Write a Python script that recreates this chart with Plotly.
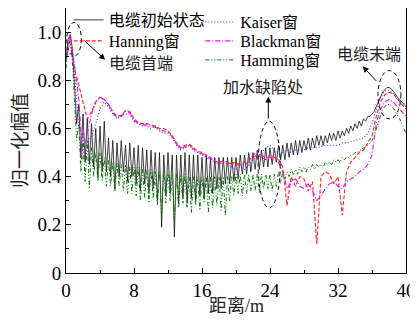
import plotly.graph_objects as go

# ---------------- data ----------------
distance_fine = [i * 0.25 for i in range(161)]   # 0 .. 40 m, step 0.25
distance_coarse = [i * 0.5 for i in range(81)]   # 0 .. 40 m, step 0.5

initial_state = [
    0.88, 0.97, 0.99, 0.93,
    0.78, 0.62, 0.70, 0.48,
    0.66, 0.46, 0.64, 0.45,
    0.62, 0.44, 0.60, 0.40,
    0.61, 0.42, 0.63, 0.42,
    0.56, 0.40, 0.55, 0.35,
    0.54, 0.40, 0.55, 0.42,
    0.53, 0.38, 0.54, 0.40,
    0.52, 0.37, 0.53, 0.34,
    0.52, 0.37, 0.51, 0.33,
    0.51, 0.35, 0.50, 0.30,
    0.50, 0.19, 0.49, 0.32,
    0.50, 0.33, 0.49, 0.15,
    0.49, 0.29, 0.49, 0.31,
    0.50, 0.29, 0.49, 0.31,
    0.49, 0.30, 0.49, 0.32,
    0.48, 0.31, 0.49, 0.33,
    0.48, 0.33, 0.48, 0.35,
    0.48, 0.35, 0.48, 0.37,
    0.48, 0.37, 0.48, 0.38,
    0.48, 0.39, 0.49, 0.41,
    0.49, 0.41, 0.50, 0.42,
    0.50, 0.43, 0.51, 0.43,
    0.51, 0.44, 0.52, 0.44,
    0.52, 0.45, 0.52, 0.46,
    0.53, 0.47, 0.53, 0.47,
    0.54, 0.48, 0.54, 0.49,
    0.55, 0.49, 0.55, 0.50,
    0.55, 0.51, 0.56, 0.51,
    0.56, 0.52, 0.57, 0.53,
    0.57, 0.53, 0.57, 0.54,
    0.58, 0.55, 0.58, 0.55,
    0.59, 0.56, 0.59, 0.57,
    0.60, 0.58, 0.61, 0.59,
    0.62, 0.60, 0.63, 0.61,
    0.64, 0.63, 0.65, 0.65,
    0.66, 0.67, 0.69, 0.71,
    0.73, 0.75, 0.76, 0.77,
    0.77, 0.765, 0.755, 0.74,
    0.73, 0.72, 0.71, 0.70,
    0.69,
]

hamming = [
    0.85, 0.95, 0.96, 0.88,
    0.72, 0.55, 0.62, 0.42,
    0.58, 0.38, 0.55, 0.35,
    0.52, 0.40, 0.50, 0.38,
    0.50, 0.38, 0.48, 0.36,
    0.47, 0.36, 0.46, 0.34,
    0.46, 0.36, 0.45, 0.34,
    0.45, 0.33, 0.44, 0.33,
    0.44, 0.32, 0.44, 0.30,
    0.43, 0.31, 0.43, 0.29,
    0.43, 0.31, 0.42, 0.28,
    0.42, 0.25, 0.42, 0.29,
    0.42, 0.30, 0.41, 0.22,
    0.41, 0.27, 0.41, 0.29,
    0.41, 0.27, 0.40, 0.25,
    0.40, 0.28, 0.40, 0.26,
    0.40, 0.29, 0.40, 0.25,
    0.40, 0.27, 0.40, 0.28,
    0.40, 0.26, 0.40, 0.24,
    0.40, 0.30, 0.40, 0.32,
    0.41, 0.33, 0.41, 0.32,
    0.41, 0.33, 0.41, 0.34,
    0.41, 0.34, 0.41, 0.33,
    0.41, 0.35, 0.41, 0.35,
    0.41, 0.34, 0.41, 0.36,
    0.42, 0.37, 0.42, 0.39,
    0.42, 0.40, 0.43, 0.41,
    0.43, 0.41, 0.44, 0.42,
    0.44, 0.42, 0.44, 0.43,
    0.45, 0.43, 0.45, 0.44,
    0.45, 0.44, 0.46, 0.45,
    0.46, 0.45, 0.47, 0.46,
    0.47, 0.46, 0.48, 0.47,
    0.48, 0.48, 0.49, 0.49,
    0.50, 0.50, 0.51, 0.51,
    0.52, 0.52, 0.53, 0.54,
    0.55, 0.57, 0.60, 0.63,
    0.66, 0.68, 0.69, 0.70,
    0.70, 0.695, 0.685, 0.67,
    0.66, 0.64, 0.62, 0.60,
    0.58,
]

hanning = [
    0.90, 0.98, 0.85, 0.78, 0.70, 0.64, 0.67, 0.71, 0.73, 0.72,
    0.70, 0.67, 0.65, 0.655, 0.675, 0.67, 0.64, 0.625, 0.62, 0.62,
    0.615, 0.61, 0.60, 0.60, 0.59, 0.57, 0.54, 0.52, 0.53, 0.535,
    0.52, 0.505, 0.50, 0.49, 0.48, 0.465, 0.46, 0.465, 0.46, 0.46,
    0.455, 0.45, 0.46, 0.47, 0.48, 0.49, 0.48, 0.47, 0.49, 0.48,
    0.47, 0.44, 0.28, 0.40, 0.36, 0.40, 0.39, 0.34, 0.38, 0.12,
    0.40, 0.42, 0.41, 0.37, 0.40, 0.24, 0.42, 0.46, 0.48, 0.50,
    0.51, 0.54, 0.57, 0.65, 0.71, 0.74, 0.75, 0.745, 0.72, 0.70,
    0.68,
]

blackman = [
    0.92, 0.99, 0.86, 0.72, 0.47, 0.58, 0.66, 0.71, 0.73, 0.72,
    0.70, 0.665, 0.645, 0.65, 0.67, 0.665, 0.635, 0.62, 0.615, 0.615,
    0.61, 0.605, 0.595, 0.59, 0.585, 0.565, 0.535, 0.515, 0.525, 0.53,
    0.515, 0.50, 0.495, 0.485, 0.475, 0.46, 0.455, 0.46, 0.455, 0.455,
    0.45, 0.445, 0.45, 0.46, 0.49, 0.50, 0.49, 0.48, 0.48, 0.47,
    0.46, 0.42, 0.35, 0.38, 0.39, 0.36, 0.35, 0.37, 0.34, 0.30,
    0.32, 0.35, 0.37, 0.38, 0.36, 0.35, 0.38, 0.39, 0.40, 0.42,
    0.43, 0.45, 0.49, 0.62, 0.68, 0.71, 0.72, 0.71, 0.69, 0.67,
    0.65,
]

kaiser = [
    0.88, 0.97, 0.82, 0.62, 0.56, 0.55, 0.57, 0.62, 0.68, 0.71,
    0.69, 0.66, 0.64, 0.65, 0.66, 0.66, 0.63, 0.62, 0.61, 0.61,
    0.60, 0.61, 0.59, 0.58, 0.58, 0.56, 0.53, 0.51, 0.52, 0.53,
    0.51, 0.50, 0.49, 0.48, 0.47, 0.46, 0.45, 0.46, 0.45, 0.44,
    0.43, 0.44, 0.43, 0.45, 0.47, 0.48, 0.50, 0.52, 0.53, 0.51,
    0.50, 0.50, 0.51, 0.50, 0.51, 0.51, 0.51, 0.52, 0.52, 0.52,
    0.525, 0.53, 0.53, 0.53, 0.53, 0.54, 0.54, 0.545, 0.55, 0.555,
    0.56, 0.58, 0.62, 0.68, 0.73, 0.755, 0.76, 0.745, 0.72, 0.71,
    0.70,
]

x_tick_vals = [0, 8, 16, 24, 32, 40]
x_tick_text = ["0", "8", "16", "24", "32", "40"]
y_tick_vals = [0, 0.2, 0.4, 0.6, 0.8, 1.0]
y_tick_text = ["0", "0.2", "0.4", "0.6", "0.8", "1.0"]

FONT = "Liberation Serif, 'Noto Sans CJK SC', serif"

fig = go.Figure()

fig.add_trace(go.Scatter(x=distance_fine, y=initial_state, mode="lines", name="电缆初始状态",
                         line=dict(color="#111111", width=0.8), legend="legend"))
fig.add_trace(go.Scatter(x=distance_coarse, y=hanning, mode="lines", name="Hanning窗",
                         line=dict(color="#ff2020", width=1.1, dash="4px,2px"), legend="legend2"))
fig.add_trace(go.Scatter(x=distance_coarse, y=kaiser, mode="lines", name="Kaiser窗",
                         line=dict(color="#3030ff", width=1.1, dash="1px,2px"), legend="legend3"))
fig.add_trace(go.Scatter(x=distance_coarse, y=blackman, mode="lines", name="Blackman窗",
                         line=dict(color="#ff00ff", width=1.1, dash="5px,2px,1px,2px"), legend="legend4"))
fig.add_trace(go.Scatter(x=distance_fine, y=hamming, mode="lines", name="Hamming窗",
                         line=dict(color="#007a00", width=1.0, dash="4px,2px,1px,2px,1px,2px"),
                         legend="legend5"))

# ellipses
ell = dict(type="circle", xref="x", yref="y", line=dict(color="black", width=1, dash="4px,3px"))
fig.add_shape(x0=0.1, x1=1.8, y0=0.90, y1=1.04, **ell)
fig.add_shape(x0=22.6, x1=25.2, y0=0.27, y1=0.63, **ell)
fig.add_shape(x0=36.7, x1=39.4, y0=0.64, y1=0.84, **ell)

arrow = dict(xref="x", yref="y", axref="x", ayref="y", text="", showarrow=True,
             arrowhead=2, arrowsize=1.2, arrowwidth=1, arrowcolor="black")
fig.add_annotation(x=4.6, y=0.885, ax=2.0, ay=0.97, **arrow)
fig.add_annotation(x=34.9, y=0.858, ax=36.7, ay=0.79, **arrow)
fig.add_annotation(x=23.8, y=0.733, ax=23.8, ay=0.635, **arrow)

txt = dict(xref="x", yref="y", showarrow=False, font=dict(family=FONT, size=16, color="#222"))
fig.add_annotation(x=4.8, y=0.87, text="电缆首端", xanchor="left", yanchor="middle", **txt)
fig.add_annotation(x=35.6, y=0.905, text="电缆末端", xanchor="center", yanchor="middle", **txt)
fig.add_annotation(x=23.2, y=0.77, text="加水缺陷处", xanchor="center", yanchor="middle", **txt)

# x-axis title placed as a paper annotation (plot area spans y 8..273 px)
fig.add_annotation(x=0.5, y=-0.125, xref="paper", yref="paper", showarrow=False,
                   text="距离/m", xanchor="center", yanchor="middle",
                   font=dict(family=FONT, size=18, color="#222"))

axis_common = dict(showline=True, linecolor="black", linewidth=1, mirror=True, automargin=False,
                   ticks="inside", ticklen=5, tickcolor="black", showgrid=False, zeroline=False,
                   tickfont=dict(family=FONT, size=19, color="black"))

fig.update_xaxes(range=[0, 40], tickvals=x_tick_vals, ticktext=x_tick_text,
                 minor=dict(ticks="inside", ticklen=3, tickcolor="black", dtick=4, tick0=0),
                 **axis_common)
fig.update_yaxes(range=[0, 1.1], tickvals=y_tick_vals, ticktext=y_tick_text,
                 minor=dict(ticks="inside", ticklen=3, tickcolor="black", dtick=0.1, tick0=0),
                 title=dict(text="归一化幅值", font=dict(family=FONT, size=19, color="#222"), standoff=4),
                 **axis_common)

# one legend per row, placed at the reference's row positions (plot area: x 66..406, y 8..273)
legend_rows = {
    "legend": (0.008, 0.9547),
    "legend2": (0.008, 0.8755),
    "legend3": (0.395, 0.947),
    "legend4": (0.395, 0.8755),
    "legend5": (0.395, 0.8038),
}
legend_layout = {}
for key, (lx, ly) in legend_rows.items():
    legend_layout[key] = dict(x=lx, y=ly, xanchor="left", yanchor="middle",
                              bgcolor="rgba(0,0,0,0)", borderwidth=0,
                              font=dict(family=FONT, size=16, color="black"))

# the page body has an 8px default margin, so the figure is made 8px smaller
fig.update_layout(
    width=410, height=321,
    margin=dict(l=58, r=12, t=0, b=56, autoexpand=False),
    paper_bgcolor="white", plot_bgcolor="white",
    showlegend=True,
    **legend_layout,
)

fig.write_html("out.html")
